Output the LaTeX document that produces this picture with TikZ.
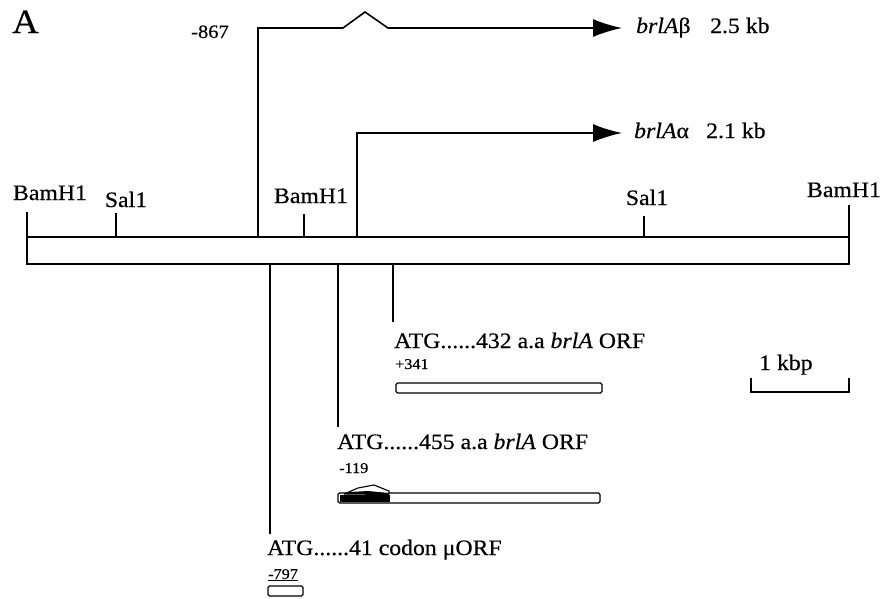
\documentclass[tikz,border=0pt]{standalone}
\usepackage{fontspec}
\setmainfont{Liberation Serif}[FakeStretch=1.08,FakeBold=0.4]
\usetikzlibrary{arrows.meta}
\begin{document}
\begin{tikzpicture}[x=1pt,y=-1pt,
  lbl/.style={inner sep=0pt,anchor=base west,font=\fontsize{22}{24}\selectfont},
  site/.style={inner sep=0pt,anchor=base,font=\fontsize{22}{24}\selectfont},
  posn/.style={inner sep=0pt,anchor=base west,font=\fontsize{15}{16}\selectfont},
  mainline/.style={line width=1.6pt},
  prom/.style={line width=1.6pt,-{Latex[length=29pt,width=18pt]}},
  orfbox/.style={draw,line width=1.3pt,rounded corners=1.5pt,fill=white}]
\useasboundingbox (0,0) rectangle (881,598);
% panel label
\node[inner sep=0pt,anchor=base west,font=\fontsize{34}{36}\selectfont] (panel) at (12,33) {A};
% map bar
\draw[mainline] (27,237) rectangle (849,264);
\coordinate (bL) at (27,212); \coordinate (bLb) at (27,237);
\coordinate (sL) at (116,213); \coordinate (sLb) at (116,237);
\coordinate (bM) at (304,214); \coordinate (bMb) at (304,237);
\coordinate (sR) at (644,216); \coordinate (sRb) at (644,237);
\coordinate (bR) at (849,205); \coordinate (bRb) at (849,237);
\draw[mainline] (bL) -- (bLb);
\draw[mainline] (sL) -- (sLb);
\draw[mainline] (bM) -- (bMb);
\draw[mainline] (sR) -- (sRb);
\draw[mainline] (bR) -- (bRb);
\node[site] (tbL) at (50,200) {BamH1};
\node[site] (tsL) at (126,207) {Sal1};
\node[site] (tbM) at (311,203) {BamH1};
\node[site] (tsR) at (647,205) {Sal1};
\node[site] (tbR) at (844,197) {BamH1};
% promoters
\coordinate (pb0) at (258,237);
\coordinate (pb1) at (258,28);
\coordinate (pbe) at (622,28);
\draw[prom] (pb0) -- (pb1) -- (343,28) -- (365,12) -- (388,28) -- (pbe);
\node[inner sep=0pt,anchor=base west,font=\fontsize{19}{21}\selectfont] (m867) at (191,38) {-867};
\node[lbl] (tbeta) at (636,33) {\textit{brlA}β};
\node[lbl] (kbb) at (710,33) {2.5 kb};
\coordinate (pa0) at (357,237);
\coordinate (pa1) at (357,133);
\coordinate (pae) at (622,133);
\draw[prom] (pa0) -- (pa1) -- (pae);
\node[lbl] (talpha) at (634,138) {\textit{brlA}α};
\node[lbl] (kba) at (706,138) {2.1 kb};
% ORF drop lines
\coordinate (d1a) at (393,264); \coordinate (d1b) at (393,322);
\coordinate (d2a) at (338,264); \coordinate (d2b) at (338,427);
\coordinate (d3a) at (270,264); \coordinate (d3b) at (270,534);
\draw[mainline] (d1a) -- (d1b);
\draw[mainline] (d2a) -- (d2b);
\draw[mainline] (d3a) -- (d3b);
% ORF 432
\node[lbl] (o1) at (394,348) {ATG......432 a.a \textit{brlA} ORF};
\node[posn] (p1) at (395,369) {+341};
\draw[orfbox] (396,383) rectangle (602,393);
% ORF 455
\node[lbl] (o2) at (337,449) {ATG......455 a.a \textit{brlA} ORF};
\node[posn] (p2) at (339,473) {-119};
\draw[orfbox] (338,493) rectangle (600,503);
\fill[black] (340,494.5) rectangle (390,502);
\draw[line width=1.1pt,fill=white] (344,494) -- (358,488) -- (374,485) -- (389,491) -- (389,494);
\fill[black] (344,494.5) -- (350,492) -- (368,491) -- (389,493) -- (389,495) -- cycle;
% uORF
\node[lbl] (o3) at (267,555) {ATG......41 codon μORF};
\node[posn] (p3) at (268,579) {\underline{-797}};
\draw[orfbox] (268,586) rectangle (303,596);
% scale bar
\coordinate (s0) at (751,378); \coordinate (s1) at (751,392);
\coordinate (s2) at (849,392); \coordinate (s3) at (849,378);
\draw[mainline] (s0) -- (s1) -- (s2) -- (s3);
\node[lbl] (kbp) at (759,370) {1 kbp};
\end{tikzpicture}
\end{document}
